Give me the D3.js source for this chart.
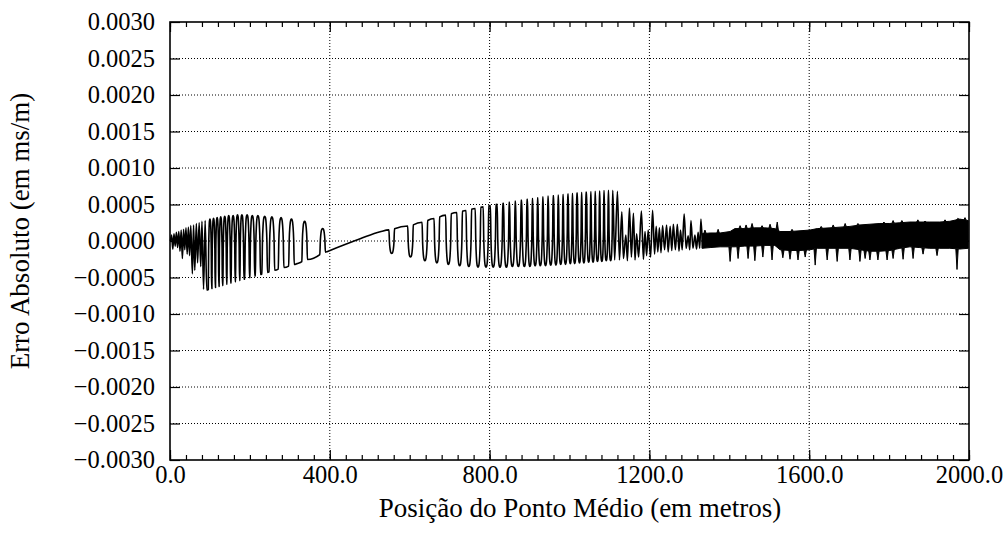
<!DOCTYPE html>
<html><head><meta charset="utf-8">
<script src="https://cdn.jsdelivr.net/npm/d3@7"></script>
<style>body{margin:0;background:#fff} svg{display:block}</style>
</head><body>
<svg id="c" width="1005" height="536"></svg>
<script>
// ---------- data (x in metres, y in ms/m) ----------
const xTicks = [0, 400, 800, 1200, 1600, 2000];
const xTickLabels = ["0.0", "400.0", "800.0", "1200.0", "1600.0", "2000.0"];
const yTicks = [0.003, 0.0025, 0.002, 0.0015, 0.001, 0.0005, 0, -0.0005, -0.001, -0.0015, -0.002, -0.0025, -0.003];
const yTickLabels = ["0.0030", "0.0025", "0.0020", "0.0015", "0.0010", "0.0005", "0.0000",
  "\u22120.0005", "\u22120.0010", "\u22120.0015", "\u22120.0020", "\u22120.0025", "\u22120.0030"];

// initial dense oscillation (vertices)
const zzX = [1,4,7,10,13,16,19,22,25,28,31,34,37,40,43,46,49,52,56,59,62,66,69,73,77,80,84,88,92];
const zzY = [0.00000,0.00008,-0.00011,0.00010,-0.00007,0.00012,-0.00009,0.00013,-0.00014,0.00015,-0.00024,0.00016,-0.00012,0.00018,-0.00018,0.00019,-0.00020,0.00021,-0.00045,0.00022,-0.00040,0.00024,-0.00030,0.00025,-0.00035,0.00027,-0.00066,0.00028,-0.00067];

// slowly rising base line
const baseX = [92,200,318,393,476,526,608,693,776,859,944,1026,1094,1120];
const baseY = [-0.00067,-0.00050,-0.00031,-0.000146,0.00003,0.000127,0.00022,0.00036,0.00046,0.00054,0.00061,0.00066,0.00069,0.00069];

// upward pulses above the base line
const upX = [100,109,118,127,137,147,158,169,180,193,206,220,237,255,278,304,337,382];
const upY = [0.00030,0.00031,0.00032,0.00033,0.00034,0.00035,0.00035,0.00036,0.00036,0.00036,0.00035,0.00035,0.00034,0.00033,0.00032,0.00030,0.00027,0.00017];

// downward pulses below the base line
const dnX = [555,602,638,668,697,725,748,771,791,809,826,842,857,872,887,901,914,927,940,953,966,978,990,1002,1013,1025,1036,1048,1059,1070,1081,1092,1103];
const dnY = [-0.00017,-0.00022,-0.00027,-0.00030,-0.00032,-0.00034,-0.00035,-0.00036,-0.00036,-0.00036,-0.00036,-0.00036,-0.00035,-0.00035,-0.00035,-0.00035,-0.00034,-0.00034,-0.00034,-0.00033,-0.00033,-0.00032,-0.00032,-0.00031,-0.00031,-0.00030,-0.00030,-0.00029,-0.00029,-0.00028,-0.00028,-0.00027,-0.00027];

// transition zone (vertices)
const trX = [1113,1120,1125,1131,1135,1141,1145,1150,1155,1160,1164,1168,1173,1180,1185,1189,1193,1197,1203,1208,1213,1217,1221,1225,1229,1233,1238,1243,1247,1252,1256,1260,1265,1270,1274,1278,1282,1287,1292,1297,1301,1304,1309,1314,1318,1322,1326,1329,1333];
const trY = [-0.00026,0.00068,-0.00026,0.00040,-0.00024,0.00008,-0.00027,0.00045,-0.00022,0.00038,-0.00026,0.00010,-0.00022,0.00041,-0.00025,0.00013,-0.00020,0.00015,-0.00022,0.00042,-0.00018,0.00020,-0.00015,0.00018,-0.00016,0.00021,-0.00012,0.00022,-0.00015,0.00020,-0.00013,0.00023,-0.00012,0.00023,-0.00014,0.00015,-0.00012,0.00037,-0.00010,0.00007,-0.00012,0.00028,-0.00010,0.00008,-0.00011,0.00012,-0.00010,0.00030,-0.00010];

// dense band: envelope
const bandX  = [1332,1352,1377,1402,1414,1439,1464,1489,1514,1527,1552,1577,1602,1620,1652,1677,1702,1727,1752,1777,1802,1827,1852,1877,1902,1927,1952,1977,1998];
const bandHi = [0.00010,0.00011,0.00011,0.00013,0.00017,0.00017,0.00018,0.00018,0.00017,0.00013,0.00013,0.00014,0.00015,0.00017,0.00018,0.00019,0.00020,0.00022,0.00023,0.00024,0.00024,0.00025,0.00026,0.00026,0.00026,0.00026,0.00027,0.00030,0.00028];
const bandLo = [-0.00010,-0.00009,-0.00008,-0.00008,-0.00008,-0.00007,-0.00007,-0.00006,-0.00006,-0.00012,-0.00013,-0.00013,-0.00012,-0.00010,-0.00010,-0.00010,-0.00010,-0.00012,-0.00014,-0.00014,-0.00013,-0.00010,-0.00008,-0.00009,-0.00010,-0.00010,-0.00010,-0.00011,-0.00010];
// dense band: spikes
const dsX = [1402,1422,1447,1464,1484,1507,1534,1552,1572,1590,1615,1645,1670,1702,1727,1740,1752,1772,1795,1810,1835,1860,1885,1920,1970];
const dsY = [-0.00028,-0.00024,-0.00024,-0.00027,-0.00022,-0.00026,-0.00023,-0.00025,-0.00026,-0.00022,-0.00033,-0.00026,-0.00028,-0.00026,-0.00028,-0.00024,-0.00026,-0.00026,-0.00026,-0.00024,-0.00025,-0.00024,-0.00018,-0.00020,-0.00039];
const usX = [1339,1372,1427,1442,1457,1482,1502,1520,1557,1630,1660,1690,1722,1787,1810,1832,1872,1890,1940,1972,1990];
const usY = [0.00015,0.00016,0.00021,0.00022,0.00024,0.00021,0.00023,0.00026,0.00016,0.00020,0.00022,0.00024,0.00024,0.00026,0.00028,0.00028,0.00029,0.00027,0.00029,0.00031,0.00032];

// ---------- drawing ----------
const FONT = "'Liberation Serif','Times New Roman',serif";
const FS_TICK = 24.5, FS_TITLE = 27;
const L = 170, R = 969, T = 22, B = 460;
const svg = d3.select('#c');
const x = d3.scaleLinear().domain([0, 2000]).range([L, R]);
const y = d3.scaleLinear().domain([-0.003, 0.003]).range([B, T]);

// grid
const grid = svg.append('g').attr('stroke', '#000').attr('stroke-width', 1).attr('stroke-dasharray', '1,2');
grid.selectAll('line.gy').data(yTicks.slice(1, -1)).join('line')
  .attr('x1', L).attr('x2', R).attr('y1', d => y(d)).attr('y2', d => y(d));
grid.selectAll('line.gx').data(xTicks.slice(1, -1)).join('line')
  .attr('y1', T).attr('y2', B).attr('x1', d => x(d)).attr('x2', d => x(d));

// axes
const minor = d3.range(0, 2001, 40);
function styleAxis(sel) {
  sel.select('.domain').remove();
  sel.selectAll('line').attr('stroke', '#000').attr('stroke-width', 1.2);
  sel.attr('font-family', FONT).attr('font-size', FS_TICK);
  sel.selectAll('text').attr('fill', '#000');
}
svg.append('g').call(d3.axisLeft(y).tickValues(yTicks).tickSize(-10).tickPadding(15)
  .tickFormat((d, i) => yTickLabels[i])).attr('transform', `translate(${L},0)`).call(styleAxis);
svg.append('g').call(d3.axisRight(y).tickValues(yTicks).tickSize(-10).tickFormat(''))
  .attr('transform', `translate(${R},0)`).call(styleAxis);
svg.append('g').call(d3.axisBottom(x).tickValues(xTicks).tickSize(-10).tickPadding(6)
  .tickFormat((d, i) => xTickLabels[i])).attr('transform', `translate(0,${B})`).call(styleAxis);
svg.append('g').call(d3.axisBottom(x).tickValues(minor).tickSize(-5).tickFormat(''))
  .attr('transform', `translate(0,${B})`).call(styleAxis);
svg.append('g').call(d3.axisTop(x).tickValues(xTicks).tickSize(-10).tickFormat(''))
  .attr('transform', `translate(0,${T})`).call(styleAxis);
svg.append('g').call(d3.axisTop(x).tickValues(minor).tickSize(-5).tickFormat(''))
  .attr('transform', `translate(0,${T})`).call(styleAxis);

// build the curve
const base = d3.scaleLinear().domain(baseX).range(baseY);
const shapeU = [-1, -0.8, -0.55, -0.25, 0, 0.25, 0.55, 0.8, 1];
const shapeF = [0, 0.55, 0.85, 0.98, 1, 0.98, 0.85, 0.55, 0];
const pts = [];
zzX.forEach((v, i) => pts.push([v, zzY[i]]));
const intervals = [];
function addPulses(px, py) {
  px.forEach((c, i) => {
    const gp = i > 0 ? c - px[i - 1] : Infinity;
    const gn = i < px.length - 1 ? px[i + 1] - c : Infinity;
    const hw = Math.min(7, 0.46 * Math.min(gp, gn));
    intervals.push([c - hw, c + hw]);
    shapeU.forEach((u, k) => {
      const xx = c + u * hw;
      const b = base(xx);
      pts.push([xx, b + shapeF[k] * (py[i] - b)]);
    });
  });
}
addPulses(upX, upY);
addPulses(dnX, dnY);
baseX.forEach((bx, i) => {
  if (bx > 93 && bx < 1108 && !intervals.some(iv => bx >= iv[0] && bx <= iv[1])) pts.push([bx, baseY[i]]);
});
pts.push([1108.5, base(1108.5)]);
trX.forEach((v, i) => pts.push([v, trY[i]]));
pts.sort((a, b) => a[0] - b[0]);

const plot = svg.append('g');
plot.append('path').datum(pts)
  .attr('d', d3.line().x(d => x(d[0])).y(d => y(d[1])).curve(d3.curveMonotoneX))
  .attr('fill', 'none').attr('stroke', '#000').attr('stroke-width', 1.6).attr('stroke-linejoin', 'round');

// dense band
const bandData = bandX.map((v, i) => [v, bandHi[i], bandLo[i]]);
plot.append('path').datum(bandData)
  .attr('d', d3.area().x(d => x(d[0])).y0(d => y(d[2])).y1(d => y(d[1])))
  .attr('fill', '#000').attr('stroke', '#000').attr('stroke-width', 1);
const hiAt = d3.scaleLinear().domain(bandX).range(bandHi);
const loAt = d3.scaleLinear().domain(bandX).range(bandLo);
const spikeLine = d3.line().x(d => x(d[0])).y(d => y(d[1]));
dsX.forEach((c, i) => {
  plot.append('path').attr('d', spikeLine([[c - 3, loAt(c - 3)], [c, dsY[i]], [c + 3, loAt(c + 3)]]))
    .attr('fill', '#000').attr('stroke', '#000').attr('stroke-width', 1);
});
usX.forEach((c, i) => {
  const a = Math.max(1332, c - 3), b = Math.min(1998, c + 3);
  plot.append('path').attr('d', spikeLine([[a, hiAt(a)], [c, usY[i]], [b, hiAt(b)]]))
    .attr('fill', '#000').attr('stroke', '#000').attr('stroke-width', 1);
});

// frame
svg.append('rect').attr('x', L).attr('y', T).attr('width', R - L).attr('height', B - T)
  .attr('fill', 'none').attr('stroke', '#000').attr('stroke-width', 1.6);

// titles
svg.append('text').attr('x', 580).attr('y', 517).attr('text-anchor', 'middle')
  .attr('font-family', FONT).attr('font-size', FS_TITLE).text('Posição do Ponto Médio (em metros)');
svg.append('text').attr('transform', 'translate(29,231) rotate(-90)').attr('text-anchor', 'middle')
  .attr('font-family', FONT).attr('font-size', FS_TITLE).text('Erro Absoluto (em ms/m)');
</script>
</body></html>
